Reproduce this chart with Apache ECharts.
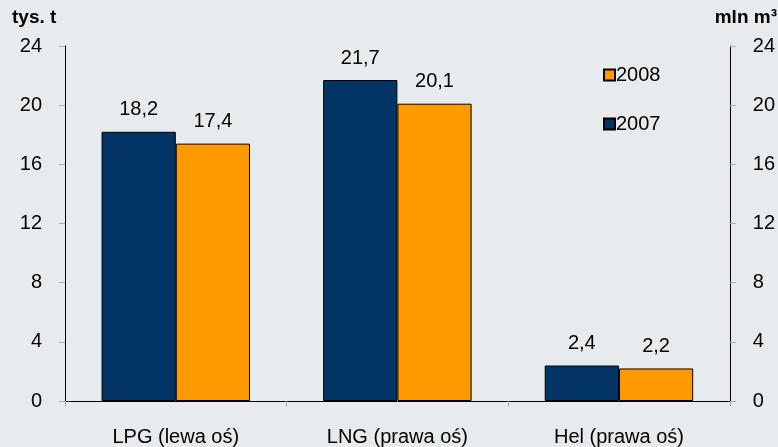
<!DOCTYPE html>
<html style="height: 100%">
<head>
    <meta charset="utf-8">
    <script src="https://cdn.jsdelivr.net/npm/echarts@6/dist/echarts.min.js"></script>
</head>
<body style="height: 100%; margin: 0; background: #e8ebee">
    <div id="main" style="width: 778px; height: 447px"></div>
    <script type="text/javascript">
        var categories = ['LPG (lewa oś)', 'LNG (prawa oś)', 'Hel (prawa oś)'];
        var values2007 = [18.2, 21.7, 2.4];
        var values2008 = [17.4, 20.1, 2.2];
        var axisTicks = { min: 0, max: 24, interval: 4 };

        var font = 'Liberation Sans, Arial, sans-serif';
        var myChart = echarts.init(document.getElementById('main'));

        function fmt(p) {
            return String(p.value).replace('.', ',');
        }

        function yAxis(pos) {
            return {
                type: 'value',
                position: pos,
                min: axisTicks.min,
                max: axisTicks.max,
                interval: axisTicks.interval,
                axisLine: { show: true, lineStyle: { color: '#000', width: 1 } },
                axisTick: { show: true, length: 6, lineStyle: { color: '#aaa' } },
                axisLabel: { color: '#000', fontSize: 20, fontFamily: font, margin: 23 },
                splitLine: { show: false }
            };
        }

        var label = { show: true, position: 'top', distance: 12, formatter: fmt, color: '#000', fontSize: 20, fontFamily: font };

        var option = {
            backgroundColor: '#e8ebee',
            animation: false,
            grid: { left: 65, right: 47, top: 46, bottom: 46 },
            legend: {
                orient: 'vertical',
                left: 598,
                top: 60,
                itemWidth: 11,
                itemHeight: 11,
                itemGap: 29,
                icon: 'rect',
                data: ['2008', '2007'],
                textStyle: { color: '#000', fontSize: 20, fontFamily: font, padding: [0, 0, 0, -4] }
            },
            graphic: [
                { type: 'text', left: 12, top: 8, style: { text: 'tys. t', font: 'bold 19px ' + font, fill: '#000' } },
                { type: 'text', right: 1, top: 8, style: { text: 'mln m³', font: 'bold 19px ' + font, fill: '#000' } }
            ],
            xAxis: {
                type: 'category',
                data: categories,
                axisLine: { lineStyle: { color: '#000', width: 1 } },
                axisTick: { show: true, length: 5, lineStyle: { color: '#aaa' } },
                axisLabel: { color: '#000', fontSize: 20, fontFamily: font, margin: 26 }
            },
            yAxis: [yAxis('left'), yAxis('right')],
            series: [
                {
                    name: '2007',
                    type: 'bar',
                    data: values2007,
                    barGap: '0%',
                    barCategoryGap: '33%',
                    itemStyle: { color: '#033466', borderColor: '#000', borderWidth: 1 },
                    label: label
                },
                {
                    name: '2008',
                    type: 'bar',
                    data: values2008,
                    itemStyle: { color: '#ff9900', borderColor: '#000', borderWidth: 1 },
                    label: label
                }
            ]
        };

        myChart.setOption(option);
    </script>
</body>
</html>
